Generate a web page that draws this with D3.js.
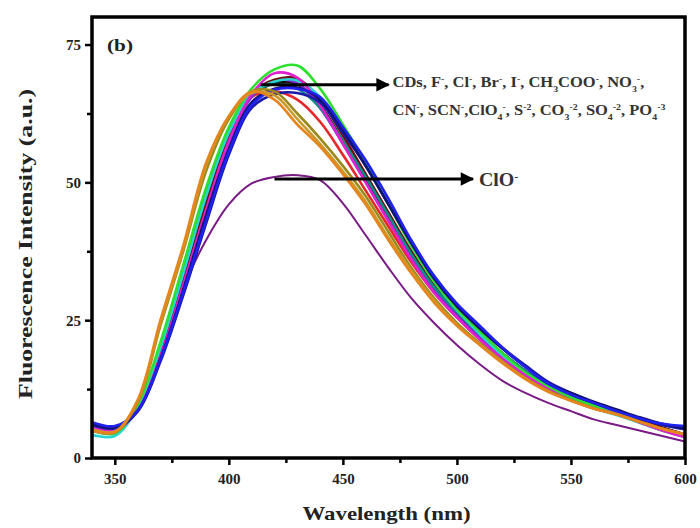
<!DOCTYPE html>
<html>
<head>
<meta charset="utf-8">
<script src="https://cdn.jsdelivr.net/npm/d3@7"></script>
<style>
  body { margin: 0; background: #fff; }
  svg text { font-family: "Liberation Serif", "Times New Roman", serif; font-weight: bold; }
</style>
</head>
<body>
<div id="chart"></div>
<script>
// ---- data ----
const wavelengths = [340,350,360,370,380,390,400,410,420,430,440,450,460,470,480,490,500,510,520,530,540,550,560,570,580,590,600];

const cds     = [5.5,5.0,9.0,19.5,33,47,58.5,65.5,68,67.8,64,57.5,50.5,43.5,36.5,30.5,26,22,18.5,15.5,13,11,9.5,8.2,6.8,5.5,4.2];
const fluor   = [5.2,4.8,9.2,20.5,34.5,48.5,59.5,65.5,66.5,65,61,55,48.5,42,35.5,30,25.5,21.5,18,15,12.5,10.8,9.2,8,6.6,5.2,4];
const chlor   = [6.5,5.8,8.6,17.8,30,43,55.5,64,66.8,67,65.5,60,54,47,39.5,33,28,24,20,16.5,13.5,11.5,10,8.5,7.2,6.2,5.8];
const brom    = [5.5,5,8.6,18.5,31.5,45,57.5,66,69.8,69,64,57,50,43,36,30,25.5,21.5,18,15,12.5,10.5,9,8,6.5,5,3.8];
const iod     = [5.0,4.6,10,24,37.5,52,61.5,66.5,66.5,62.5,58,53,47.5,41,34.5,29,24.5,20.8,17.5,14.5,12.2,10.5,9,8,6.6,5.3,4.2];
const acetate = [6.2,5.6,8.6,18,30.5,44,56,64.5,67,67.2,65,59.5,53,46,39,32.5,27.5,23.5,19.8,16.5,13.5,11.8,10.2,8.8,7.4,6.2,5.4];
const nitrate = [5.8,5.2,8.8,18.5,31.5,45,57,65.5,68.5,68,63.5,57,50,43,36.5,30.5,26,22,18.5,15.5,12.8,11,9.5,8.2,6.8,5.4,4.2];
const cyanide = [5.4,4.9,9.0,19,32,46,58,66,68.6,68.8,65,58.5,51.5,44.5,37.5,31.5,26.5,22.5,19,15.8,13,11.2,9.6,8.3,6.9,5.5,4.3];
const thiocy  = [5.0,4.5,9.2,20,33.5,47.5,59,66,67.8,67,63.5,57.5,51,44,37,31,26.5,22.5,19,15.8,13,11,9.4,8,6.6,5.1,3.8];
const perchl  = [6.0,5.4,8.4,17.5,29.5,42.5,55,63.5,66,66.2,64.5,59,53,46,39,33,27.8,23.8,20,16.8,13.8,11.8,10,8.6,7.2,6,5.2];
const sulfide = [5.0,4.7,10.5,25,38.5,53.5,62,66.5,65,60.5,56.5,51.5,46,39.5,33.5,28.2,24,20.5,17.2,14.3,12,10.4,9,7.9,6.6,5.3,4.3];
const carbon  = [5.0,4.5,9.6,21,35,49,60,67,70.5,71.2,67,60.5,53.5,46,38.5,32,27,23,19,15.5,13,11,9.5,8,6.5,5,4];
const sulfate = [4.2,4.0,9.2,20,33.5,47.5,59,66,68.3,68.5,65.5,59.5,53,46,38.5,32,26.8,22.5,18.6,15.3,12.5,10.5,9,7.8,6.4,5,3.8];
const phosph  = [5.2,4.8,10.3,24.5,38,53,62,66.2,65.8,61.5,57,52,46.5,40,34,28.6,24.2,20.6,17.4,14.4,12.1,10.4,9,7.9,6.6,5.3,4.3];
const hypochl = [5.5,5.0,9.0,20,31,39.5,46,49.8,51,51.3,50.4,46.2,40.4,34.5,29,24.5,20.5,17,14,11.8,10,8.5,7.0,6.0,5.0,4.0,3.0];

// drawing order, back to front
const series = [
  { values: hypochl, color: "#7a1a86", width: 2 },
  { values: cds,     color: "#111111", width: 2.6 },
  { values: fluor,   color: "#e8262a", width: 2.6 },
  { values: nitrate, color: "#7b2cd8", width: 2.6 },
  { values: cyanide, color: "#6e1010", width: 2.6 },
  { values: thiocy,  color: "#0f8a86", width: 2.6 },
  { values: sulfate, color: "#27d6d0", width: 2.6 },
  { values: carbon,  color: "#2ee02e", width: 2.6 },
  { values: brom,    color: "#e21fd0", width: 2.6 },
  { values: perchl,  color: "#1a1aa8", width: 2.6 },
  { values: acetate, color: "#12136e", width: 2.6 },
  { values: chlor,   color: "#2020f0", width: 2.6 },
  { values: iod,     color: "#9a8a1a", width: 2.6 },
  { values: phosph,  color: "#c99a2a", width: 2.6 },
  { values: sulfide, color: "#e6841e", width: 2.6 }
];

const xMajor = [350,400,450,500,550,600];
const xMinor = [375,425,475,525,575];
const yMajor = [0,25,50,75];
const yMinor = [12.5,37.5,62.5];

// annotation anchors in data units
const arrowTop = { x1: 414, x2: 470, y: 67.7 };
const arrowClo = { x1: 420, x2: 507, y: 50.6 };

// ---- setup ----
const W = 700, H = 528;
const margin = { top: 17, right: 15, bottom: 70, left: 92 };
const width = W - margin.left - margin.right;
const height = H - margin.top - margin.bottom;

const svg = d3.select("#chart").append("svg")
  .attr("width", W).attr("height", H);

const g = svg.append("g")
  .attr("transform", "translate(" + margin.left + "," + margin.top + ")");

const x = d3.scaleLinear().domain([340, 600]).range([0, width]);
const y = d3.scaleLinear().domain([0, 80]).range([height, 0]);

g.append("defs").append("clipPath").attr("id", "clip")
  .append("rect").attr("width", width).attr("height", height);

// curves
const line = d3.line()
  .x(function(d, i){ return x(wavelengths[i]); })
  .y(function(d){ return y(d); })
  .curve(d3.curveCatmullRom.alpha(0.5));

g.append("g").attr("clip-path", "url(#clip)")
  .selectAll("path")
  .data(series)
  .join("path")
  .attr("d", function(s){ return line(s.values); })
  .attr("fill", "none")
  .attr("stroke", function(s){ return s.color; })
  .attr("stroke-width", function(s){ return s.width; })
  .attr("stroke-linejoin", "round");

// axes
g.append("g")
  .attr("transform", "translate(0," + height + ")")
  .call(d3.axisBottom(x).tickValues(xMajor).tickSize(7).tickPadding(8).tickFormat(d3.format("d")));
g.append("g")
  .attr("transform", "translate(0," + height + ")")
  .call(d3.axisBottom(x).tickValues(xMinor).tickSize(5).tickFormat(""));

g.append("g")
  .call(d3.axisLeft(y).tickValues(yMajor).tickSize(7).tickPadding(4).tickFormat(d3.format("d")));
g.append("g")
  .call(d3.axisLeft(y).tickValues(yMinor).tickSize(5).tickFormat(""));

g.selectAll(".domain").remove();
g.selectAll(".tick line").attr("stroke", "#000").attr("stroke-width", 2.5);
g.selectAll(".tick text")
  .attr("fill", "#222")
  .style("font-size", "15px");

// frame
g.append("rect")
  .attr("width", width).attr("height", height)
  .attr("fill", "none").attr("stroke", "#000").attr("stroke-width", 3.5);

// axis titles
svg.append("text")
  .attr("x", margin.left + width / 2 - 2)
  .attr("y", H - 8)
  .attr("text-anchor", "middle")
  .attr("textLength", 168)
  .attr("lengthAdjust", "spacingAndGlyphs")
  .style("font-size", "19px")
  .attr("fill", "#222")
  .text("Wavelength (nm)");

svg.append("text")
  .attr("transform", "translate(32," + 244 + ") rotate(-90)")
  .attr("text-anchor", "middle")
  .attr("textLength", 310)
  .attr("lengthAdjust", "spacingAndGlyphs")
  .style("font-size", "19px")
  .attr("fill", "#222")
  .text("Fluorescence Intensity (a.u.)");

// panel label
g.append("text")
  .attr("x", 15).attr("y", 34)
  .attr("textLength", 26)
  .attr("lengthAdjust", "spacingAndGlyphs")
  .style("font-size", "17px")
  .attr("fill", "#222")
  .text("(b)");

// arrows
const defs = svg.append("defs");
defs.append("marker")
  .attr("id", "head")
  .attr("viewBox", "0 0 10 10")
  .attr("refX", 9).attr("refY", 5)
  .attr("markerWidth", 6).attr("markerHeight", 4.5)
  .attr("markerUnits", "strokeWidth")
  .attr("orient", "auto")
  .append("path").attr("d", "M0,0 L10,5 L0,10 z").attr("fill", "#000");

[arrowTop, arrowClo].forEach(function(a){
  g.append("line")
    .attr("x1", x(a.x1)).attr("x2", x(a.x2))
    .attr("y1", y(a.y)).attr("y2", y(a.y))
    .attr("stroke", "#000").attr("stroke-width", 3)
    .attr("marker-end", "url(#head)");
});

// ion labels with sub/superscripts
function richText(parent, px, py, parts, size, sx) {
  const t = parent.append("text")
    .attr("transform", "translate(" + px + "," + py + ") scale(" + sx + ",1)")
    .style("font-size", size + "px")
    .attr("fill", "#333");
  parts.forEach(function(p){
    const s = t.append("tspan").text(p[0]);
    if (p[1] === "sup") s.attr("baseline-shift", "super").style("font-size", (size * 0.6) + "px");
    if (p[1] === "sub") s.attr("baseline-shift", "sub").style("font-size", (size * 0.6) + "px");
  });
  return t;
}

const line1 = [["CDs, F"],["-","sup"],[", Cl"],["-","sup"],[", Br"],["-","sup"],[", I"],["-","sup"],[", CH"],["3","sub"],["COO"],["-","sup"],[", NO"],["3","sub"],["-","sup"],[","]];
const line2 = [["CN"],["-","sup"],[", SCN"],["-","sup"],[",ClO"],["4","sub"],["-","sup"],[", S"],["-2","sup"],[", CO"],["3","sub"],["-2","sup"],[", SO"],["4","sub"],["-2","sup"],[", PO"],["4","sub"],["-3","sup"]];

richText(g, x(arrowTop.x2) + 4, y(arrowTop.y) + 2, line1, 15, 1.1);
richText(g, x(arrowTop.x2) + 4, y(arrowTop.y) + 30, line2, 15, 1.1);
richText(g, x(arrowClo.x2) + 6, y(arrowClo.y) + 7, [["ClO"],["-","sup"]], 19, 1.05);
</script>
</body>
</html>
